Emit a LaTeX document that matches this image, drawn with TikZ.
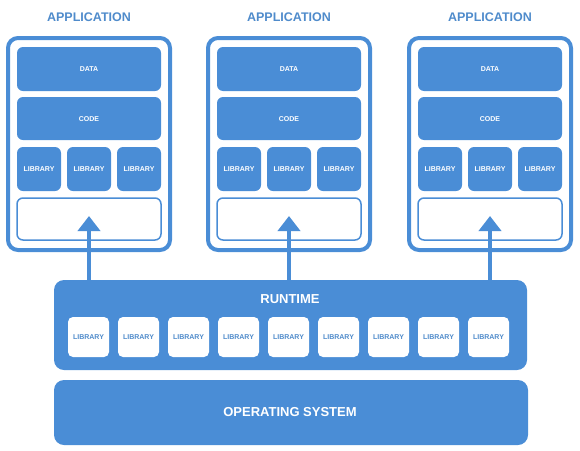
\documentclass[tikz,border=0pt]{standalone}
\usepackage{fontspec}
\usetikzlibrary{arrows.meta}
\setmainfont{Liberation Sans}
\definecolor{bl}{HTML}{4A8DD6}
\definecolor{tl}{HTML}{4F8BCB}
\begin{document}
\begin{tikzpicture}[x=1pt,y=-1pt,
  frame/.style={draw=bl,line width=4pt,rounded corners=10pt},
  fillbox/.style={fill=bl,rounded corners=6pt},
  emptybox/.style={draw=bl,line width=1.5pt,fill=white,rounded corners=6pt},
  libw/.style={fill=white,rounded corners=5pt},
  small/.style={text=white,font=\bfseries\fontsize{7}{8}\selectfont},
  smallb/.style={text=tl,font=\bfseries\fontsize{7}{8}\selectfont},
  big/.style={text=white,font=\bfseries\fontsize{13}{15}\selectfont},
  title/.style={text=tl,font=\bfseries\fontsize{12.5}{15}\selectfont},
  arr/.style={draw=bl,line width=4pt,-{Triangle[width=22pt,length=15pt]}}]
\useasboundingbox (0,0) rectangle (580,450);
\foreach \i/\cx in {1/89,2/289,3/490}{
  \node[title] (t\i) at (\cx,17) {APPLICATION};
  \draw[frame] (\cx-81,38) rectangle (\cx+81,250);
  \fill[fillbox] (\cx-72,47) rectangle (\cx+72,91);
  \node[small] (d\i) at (\cx,69) {DATA};
  \fill[fillbox] (\cx-72,97) rectangle (\cx+72,140);
  \node[small] (c\i) at (\cx,119) {CODE};
  \foreach \j/\dx in {1/-50,2/0,3/50}{
    \fill[fillbox] (\cx+\dx-22,147) rectangle (\cx+\dx+22,191);
    \node[small] (l\i\j) at (\cx+\dx,169) {LIBRARY};
  }
  \draw[emptybox] (\cx-72,198) rectangle (\cx+72,240);
  \coordinate (tip\i) at (\cx,216);
  \coordinate (base\i) at (\cx,282);
}
\fill[fillbox,rounded corners=10pt] (54,280) rectangle (527,370);
\node[big] (rt) at (290,299) {RUNTIME};
\foreach \k in {0,...,8}{
  \fill[libw] (68+50*\k,317) rectangle (109+50*\k,357);
  \node[smallb] (r\k) at (88.5+50*\k,337) {LIBRARY};
}
\foreach \i in {1,2,3}{\draw[arr] (base\i) -- (tip\i);}
\fill[fillbox,rounded corners=10pt] (54,380) rectangle (528,445);
\node[big] (os) at (290,412) {OPERATING SYSTEM};
\end{tikzpicture}
\end{document}
